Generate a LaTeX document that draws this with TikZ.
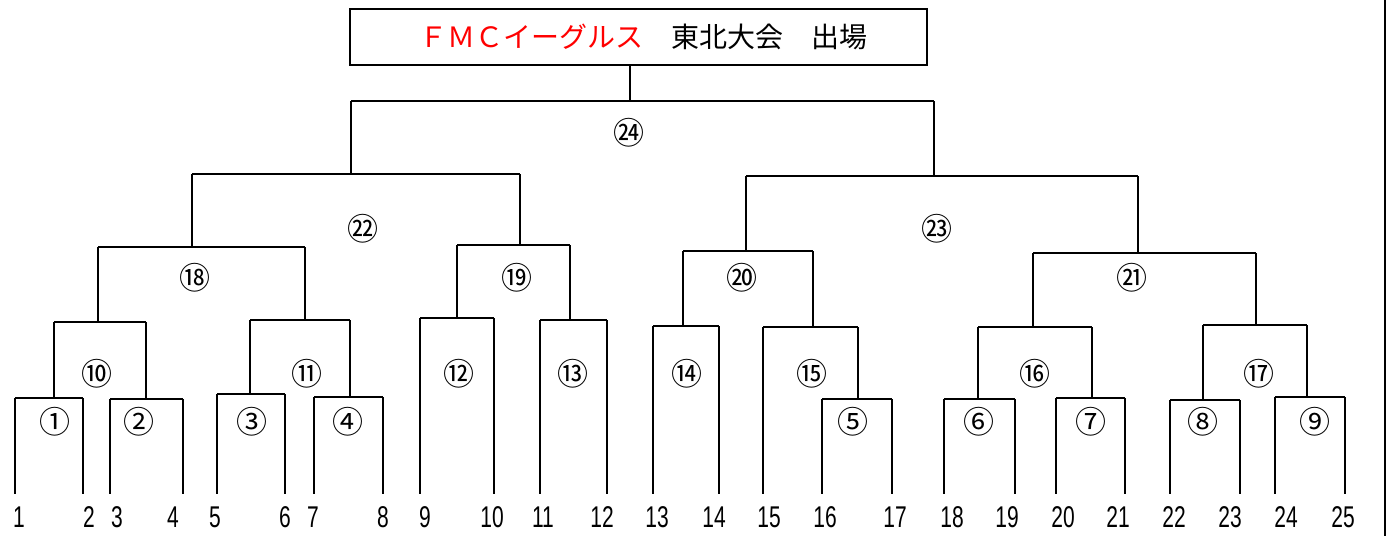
\documentclass[tikz,border=0pt]{standalone}
\usepackage{fontspec}
\usepackage{tikz}
\usetikzlibrary{calc,positioning}
\newfontfamily\jpfont{Noto Sans CJK JP}
\newfontfamily\numfont[FakeStretch=0.7]{Liberation Sans}
\tikzset{
    bline/.style={
    draw=black,line width=1.8pt
    },
    titlebox/.style={
    rectangle,draw=black,line width=2pt,minimum width=577pt,minimum height=56pt,inner sep=0pt
    },
    matchno/.style={
    font=\jpfont\fontsize{31}{32}\selectfont,inner sep=0pt
    },
    team/.style={
    font=\numfont\fontsize{30}{32}\selectfont,inner sep=0pt
    },
}
\begin{document}
\begin{tikzpicture}[x=1pt,y=-1pt]
  \useasboundingbox (0,0) rectangle (1391,536);
  % title
  \node[titlebox] (title) at (638,37) {};
  \node[font=\jpfont\fontsize{28}{30}\selectfont] (titletext) at (643,37)
       {\textcolor{red}{ＦＭＣイーグルス}　東北大会　出場};
  \draw[line width=2pt] (1385,0) -- (1385,536);

  % matches: number / left x / right x / height
  \foreach \m/\l/\r/\y in {24/351/934/101, 22/192/520/174, 23/746/1138/176,
      18/98/305/247, 19/457/570/245, 20/683/813/251, 21/1033/1256/253,
      10/54/146/322, 11/250/350/320, 12/420/494/318, 13/540/607/320,
      14/653/719/326, 15/763/858/327, 16/978/1092/327, 17/1203/1307/325,
      1/15/83/398, 2/110/183/399, 3/217/285/394, 4/314/383/397, 5/822/892/399,
      6/944/1015/399, 7/1056/1125/398, 8/1170/1240/400, 9/1275/1345/397}
  {
    \coordinate (m\m-l) at (\l,\y);
    \coordinate (m\m-r) at (\r,\y);
    \draw[bline] (m\m-l) -- (m\m-r);
  }

  % labels of the matches
  \foreach \m/\t/\x/\y in {24/㉔/629/133, 22/㉒/363/229, 23/㉓/937/229,
      18/⑱/195/278, 19/⑲/517/278, 20/⑳/742/278, 21/㉑/1132/278,
      10/⑩/97/374, 11/⑪/307/374, 12/⑫/459/374, 13/⑬/573/374, 14/⑭/687/374,
      15/⑮/812/374, 16/⑯/1035/374, 17/⑰/1259/374,
      1/①/55/422, 2/②/139/422, 3/③/252/422, 4/④/348/422, 5/⑤/853/422,
      6/⑥/979/422, 7/⑦/1091/422, 8/⑧/1203/422, 9/⑨/1315/422}
    \node[matchno] (n\m) at (\x,\y) {\t};

  % teams
  \foreach \n/\x in {1/19, 2/89, 3/117, 4/173, 5/215, 6/285, 7/313, 8/383,
      9/425, 10/492, 11/543, 12/602, 13/657, 14/714, 15/769, 16/825, 17/895,
      18/952, 19/1007, 20/1063, 21/1118, 22/1174, 23/1230, 24/1286, 25/1343}
    \node[team] (t\n) at (\x,517) {\n};
  \coordinate (bot) at (0,494);

  % title to final
  \coordinate (top24) at (630,101);
  \draw[line width=1.4pt] (title.south -| top24) -- (top24);

  % parent to child
  \foreach \p/\a/\b in {24/22/23, 22/18/19, 23/20/21, 18/10/11, 19/12/13,
      20/14/15, 21/16/17, 10/1/2, 11/3/4, 16/6/7, 17/8/9}
  {
    \draw[bline] (m\p-l) -- (m\p-l |- m\a-l);
    \draw[bline] (m\p-r) -- (m\p-r |- m\b-l);
  }

  % down to the teams
  \foreach \m in {1,2,3,4,5,6,7,8,9,12,13,14}
  {
    \draw[bline] (m\m-l) -- (m\m-l |- bot);
    \draw[bline] (m\m-r) -- (m\m-r |- bot);
  }
  \draw[bline] (m15-l) -- (m15-l |- bot);
  \draw[bline] (m15-r) -- (m15-r |- m5-l);
\end{tikzpicture}
\end{document}
